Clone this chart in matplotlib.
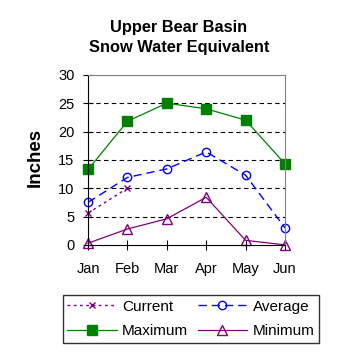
import matplotlib
matplotlib.use("Agg")
import matplotlib.pyplot as plt

months = ["Jan", "Feb", "Mar", "Apr", "May", "Jun"]
current = [5.6, 10.0]
average = [7.5, 11.9, 13.4, 16.4, 12.3, 3.0]
maximum = [13.3, 21.8, 25.0, 24.0, 22.0, 14.3]
minimum = [0.3, 2.8, 4.6, 8.4, 0.8, 0.0]

plt.rcParams["font.family"] = ["Liberation Sans", "DejaVu Sans"]

fig = plt.figure(figsize=(3.58, 3.58), dpi=100)
ax = fig.add_axes([0.246, 0.316, 0.55, 0.475])

x = list(range(len(months)))
h_cur, = ax.plot(x[:len(current)], current, color="#800080", linestyle=(0, (2, 2.5)),
                 lw=1, marker="x", ms=5, mew=1, label="Current")
h_avg, = ax.plot(x, average, color="#0000ff", linestyle=(0, (6, 3.5)), lw=1,
                 marker="o", ms=6, mfc="none", mew=1, label="Average")
h_max, = ax.plot(x, maximum, color="#008000", lw=0.9, marker="s", ms=6.5,
                 label="Maximum")
h_min, = ax.plot(x, minimum, color="#800080", lw=0.9, marker="^", ms=7, mfc="none",
                 mew=1, label="Minimum")

ax.set_xlim(0, 5)
ax.set_ylim(0, 30)
ax.set_yticks(range(0, 31, 5))
ax.set_xticks(x)
ax.set_xticklabels(months)
for y in range(5, 30, 5):
    ax.axhline(y, color="black", lw=0.8, linestyle=(0, (4, 3)), zorder=0)
ax.tick_params(labelsize=10.5, length=6.5, direction="inout", width=0.8)
ax.tick_params(axis="x", pad=9)
ax.tick_params(axis="y", pad=6.5)
ax.spines["top"].set_color("#808080")
ax.spines["right"].set_color("#808080")
for s in ax.spines.values():
    s.set_linewidth(0.8)
for line in ax.lines:
    line.set_clip_on(False)

fig.text(0.098, 0.559, "Inches", rotation=90, ha="center", va="center",
         fontsize=13.5, fontweight="bold")
fig.text(0.5, 0.895, "Upper Bear Basin\nSnow Water Equivalent", ha="center",
         va="center", fontsize=11.8, fontweight="bold", linespacing=1.45)

leg = fig.legend([h_cur, h_max, h_avg, h_min],
                 ["Current", "Maximum", "Average", "Minimum"],
                 loc="center", bbox_to_anchor=(0.533, 0.109), ncol=2, fontsize=11,
                 frameon=True, fancybox=False, edgecolor="black", handlelength=3.25,
                 columnspacing=0.6, handletextpad=0.35, borderpad=0.3,
                 labelspacing=0.7, borderaxespad=0)
leg.get_frame().set_linewidth(1)

fig.savefig("out.png", dpi=100)
